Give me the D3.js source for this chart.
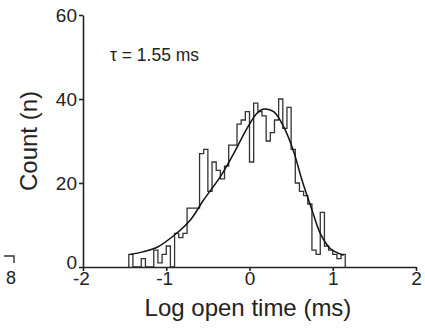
<!DOCTYPE html>
<html>
<head>
<meta charset="utf-8">
<script src="https://cdn.jsdelivr.net/npm/d3@7"></script>
<style>
  body { margin:0; background:#fff; }
  svg { display:block; font-family:"Liberation Sans", Arial, sans-serif; }
  .axis path, .axis line { stroke:#222; stroke-width:1.6; }
  .axis text { fill:#222; font-size:19px; font-family:"Liberation Sans", Arial, sans-serif; }
  .hist { fill:none; stroke:#333; stroke-width:1.3; }
  .fit { fill:none; stroke:#111; stroke-width:1.5; }
  .lbl { fill:#222; font-size:24px; }
</style>
</head>
<body>
<div id="chart"></div>
<script>
// histogram bins: left edge (log ms), width 0.05
const binLeft = [-1.45,-1.40,-1.35,-1.30,-1.25,-1.20,-1.15,-1.10,-1.05,-1.00,
                 -0.95,-0.90,-0.85,-0.80,-0.75,-0.70,-0.65,-0.60,-0.55,-0.50,
                 -0.45,-0.40,-0.35,-0.30,-0.25,-0.20,-0.15,-0.10,-0.05, 0.00,
                  0.05, 0.10, 0.15, 0.20, 0.25, 0.30, 0.35, 0.40, 0.45, 0.50,
                  0.55, 0.60, 0.65, 0.70, 0.75, 0.80, 0.85, 0.90, 0.95, 1.00,
                  1.05, 1.10];
const binWidth = 0.05;
const counts  = [3, 0, 0, 2, 0, 0, 4, 1, 3, 5,
                 0, 8, 7, 8,14,14,14,27,28,18,
                25,23,21,24,29,29,34,35,37,25,
                39,37,36,30,32,35,40,33,38,28,
                20,18,17,15, 4, 3,13, 5, 4, 3,
                 2, 3];

// fitted curve
const fitX = [-1.43,-1.28,-1.11,-0.89,-0.71,-0.55,-0.35,-0.19,-0.03, 0.09, 0.17, 0.29, 0.41, 0.53, 0.63, 0.75, 0.85, 0.97, 1.13];
const fitY = [ 3.0, 3.6, 4.7, 7.8,11.2,16.0,21.5,27.0,33.0,36.6,37.6,37.0,33.4,27.5,20.7,13.6, 8.0, 4.4, 2.8];

const xTicks = [-2,-1,0,1,2];
const yTicks = [0,20,40,60];
const tauText = "τ = 1.55 ms";

const W = 425, H = 331;
const svg = d3.select("#chart").append("svg").attr("width",W).attr("height",H);

const x = d3.scaleLinear().domain([-2,2]).range([83,416]);
const y = d3.scaleLinear().domain([0,60]).range([267,15]);

// step outline of the histogram
let d = `M${x(binLeft[0])},${y(0)}`;
binLeft.forEach((b,i) => { d += `V${y(counts[i])}H${x(b+binWidth)}`; });
d += `V${y(0)}`;
svg.append("path").attr("class","hist").attr("d",d);

svg.append("path").attr("class","fit")
  .attr("d", d3.line().x(i=>x(fitX[i])).y(i=>y(fitY[i])).curve(d3.curveCatmullRom)(d3.range(fitX.length)));

svg.append("g").attr("class","axis").attr("transform",`translate(0,${y(0)})`)
  .call(d3.axisBottom(x).tickValues(xTicks).tickSize(4).tickSizeOuter(0).tickPadding(1).tickFormat(d=>String(d)))
  .selectAll("text").attr("dx", d => d<0 ? -2 : 0);
svg.append("g").attr("class","axis").attr("transform",`translate(${x(-2)},0)`)
  .call(d3.axisLeft(y).tickValues(yTicks).tickSize(4).tickSizeOuter(0).tickPadding(2))
  .selectAll("text").attr("dy", d => d===0 ? "0.1em" : "0.32em");

svg.append("text").attr("class","lbl").attr("x",248).attr("y",316).attr("text-anchor","middle").text("Log open time (ms)");
svg.append("text").attr("class","lbl").attr("transform","translate(37,141) rotate(-90)").attr("text-anchor","middle").text("Count (n)");
svg.append("text").attr("x",110).attr("y",61).attr("fill","#222").style("font-size","17.5px").text(tauText);

// fragment of the neighbouring panel at the left edge
svg.append("path").attr("d","M4,256H14V263").attr("fill","none").attr("stroke","#333").attr("stroke-width",1.4);
svg.append("text").attr("x",11).attr("y",284).attr("text-anchor","middle").attr("fill","#222").style("font-size","18px").text("8");
</script>
</body>
</html>
